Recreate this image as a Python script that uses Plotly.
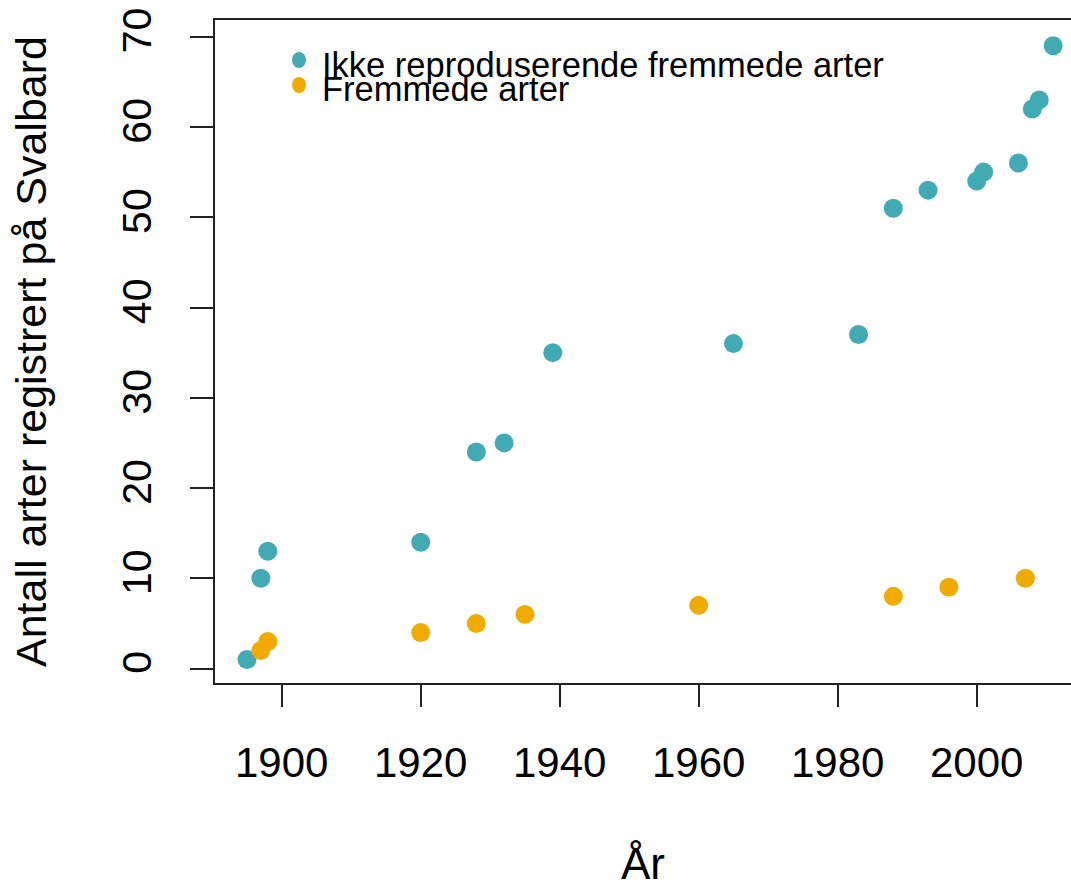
import plotly.graph_objects as go

# Data
years_ikke = [1895, 1897, 1898, 1920, 1928, 1932, 1939, 1965, 1983, 1988, 1993, 2000, 2001, 2006, 2008, 2009, 2011]
vals_ikke = [1, 10, 13, 14, 24, 25, 35, 36, 37, 51, 53, 54, 55, 56, 62, 63, 69]

years_frem = [1897, 1898, 1920, 1928, 1935, 1960, 1988, 1996, 2007]
vals_frem = [2, 3, 4, 5, 6, 7, 8, 9, 10]

x_ticks = [1900, 1920, 1940, 1960, 1980, 2000]
y_ticks = [0, 10, 20, 30, 40, 50, 60, 70]

label_ikke = "Ikke reproduserende fremmede arter"
label_frem = "Fremmede arter"
x_title = "År"
y_title = "Antall arter registrert på Svalbard"

TEAL = "#42AAB5"
ORANGE = "#F0AB00"
FONT = "Liberation Sans, Arial, sans-serif"

fig = go.Figure()
fig.add_trace(go.Scatter(x=years_ikke, y=vals_ikke, mode="markers", name=label_ikke,
                         marker=dict(color=TEAL, size=19, line=dict(width=0))))
fig.add_trace(go.Scatter(x=years_frem, y=vals_frem, mode="markers", name=label_frem,
                         marker=dict(color=ORANGE, size=19, line=dict(width=0))))

W, H = 1071, 888
L, R, T, B = 215, 0, 20, 205
pw, ph = W - L - R, H - T - B

def px(xp):
    return (xp - L) / pw

def py(yp):
    return (H - B - yp) / ph

# legend keys (small filled dots) as shapes
shapes = []
for color, yc in [(TEAL, 60), (ORANGE, 85)]:
    shapes.append(dict(type="circle", xref="paper", yref="paper",
                       x0=px(299 - 7), x1=px(299 + 7), y0=py(yc + 8), y1=py(yc - 8),
                       fillcolor=color, line=dict(width=0)))

annotations = [
    dict(xref="paper", yref="paper", x=px(320), y=py(65), text=label_ikke,
         showarrow=False, font=dict(size=34.5, color="black", family=FONT),
         xanchor="left", yanchor="middle"),
    dict(xref="paper", yref="paper", x=px(320), y=py(89), text=label_frem,
         showarrow=False, font=dict(size=34.5, color="black", family=FONT),
         xanchor="left", yanchor="middle"),
]

fig.update_layout(
    width=W, height=H,
    margin=dict(l=L, r=R, t=T, b=B, autoexpand=False),
    paper_bgcolor="white", plot_bgcolor="white",
    showlegend=False,
    font=dict(family=FONT, color="black"),
    annotations=annotations,
    shapes=shapes,
)

fig.update_xaxes(
    range=[1890.4, 2013.57], tickvals=x_ticks, ticktext=[str(v) for v in x_ticks],
    showline=True, mirror=True, linewidth=2, linecolor="#222",
    ticks="outside", ticklen=22, tickwidth=2, tickcolor="#222",
    showgrid=False, zeroline=False,
    tickfont=dict(size=42, family=FONT, color="black"),
    ticklabelstandoff=20,
    title=dict(text=x_title, font=dict(size=44, family=FONT, color="black"), standoff=66),
    automargin=False,
)
fig.update_yaxes(
    range=[-1.6, 71.85], tickvals=y_ticks, ticktext=[str(v) for v in y_ticks],
    tickangle=-90,
    showline=True, mirror=False, linewidth=2, linecolor="#222",
    ticks="outside", ticklen=23, tickwidth=2, tickcolor="#222",
    showgrid=False, zeroline=False,
    tickfont=dict(size=41, family=FONT, color="black"),
    ticklabelstandoff=23,
    title=dict(text=y_title, font=dict(size=43, family=FONT, color="black"), standoff=54),
    automargin=False,
)

fig.write_html("out.html", config={"displayModeBar": False},
               post_script="document.body.style.margin='0px';")
